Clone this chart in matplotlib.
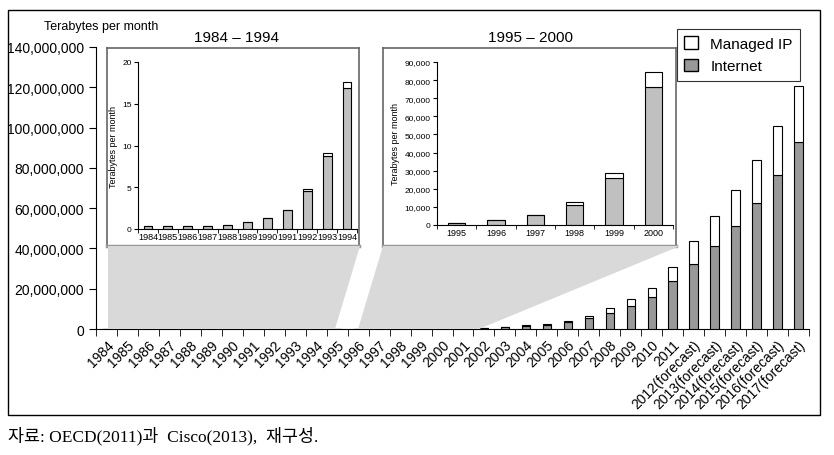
import numpy as np
import matplotlib
matplotlib.use('Agg')
import matplotlib.pyplot as plt
from matplotlib.patches import Patch, Polygon, Rectangle
from matplotlib.ticker import FuncFormatter

plt.rcParams['font.family'] = ['Liberation Sans', 'DejaVu Sans']

# main chart, terabytes per month
years_main = [str(y) for y in range(1984, 2012)] + ['%d(forecast)' % y for y in range(2012, 2018)]
internet_main = [0.3, 0.3, 0.3, 0.3, 0.5, 0.8, 1.3, 2.3, 4.6, 8.8, 16.9,
                 900, 2500, 5700, 11300, 25900, 76300,
                 180000, 360000, 850000, 1600000, 2000000, 3400000, 5400000,
                 7800000, 11300000, 15700000, 24000000,
                 32200000, 41300000, 51200000, 62800000, 76400000, 92900000]
total_main = [0.3, 0.3, 0.3, 0.3, 0.5, 0.8, 1.3, 2.3, 4.85, 9.15, 17.65,
              900, 2500, 5700, 12600, 28500, 84500,
              200000, 400000, 1000000, 2000000, 2600000, 4200000, 6600000,
              10200000, 15000000, 20300000, 30800000,
              43800000, 56100000, 69100000, 84000000, 100900000, 120600000]
managed_main = [t - i for t, i in zip(total_main, internet_main)]

# inset 1984-1994
years_a = [str(y) for y in range(1984, 1995)]
internet_a = internet_main[0:11]
managed_a = managed_main[0:11]

# inset 1995-2000
years_b = [str(y) for y in range(1995, 2001)]
internet_b = internet_main[11:17]
managed_b = managed_main[11:17]

W, H = 834, 456
fig = plt.figure(figsize=(W / 100, H / 100), dpi=100)


def box(x0, y0, x1, y1):
    # pixel box (top-left origin) -> figure fraction rect
    return [x0 / W, 1 - y1 / H, (x1 - x0) / W, (y1 - y0) / H]


def pt(x, y):
    return (x / W, 1 - y / H)


# outer frame
fig.patches.append(Rectangle(pt(8, 416), 812 / W, 405 / H, transform=fig.transFigure,
                             fill=False, edgecolor='black', linewidth=1))

ax = fig.add_axes(box(96, 48, 809, 330))
x = np.arange(len(years_main))
ax.bar(x, internet_main, 0.4, color='#999999', edgecolor='black', linewidth=0.8, zorder=3)
ax.bar(x, managed_main, 0.4, bottom=internet_main, color='white', edgecolor='black',
       linewidth=0.8, zorder=3)
ax.set_xlim(-0.5, len(years_main) - 0.5)
ax.set_ylim(0, 140000000)
ax.set_yticks(np.arange(0, 140000001, 20000000))
ax.yaxis.set_major_formatter(FuncFormatter(lambda v, p: '{:,.0f}'.format(v)))
ax.set_xticks(x)
ax.set_xticklabels(years_main, rotation=45, ha='right', rotation_mode='anchor', fontsize=10)
ax.set_xticks(np.arange(-0.5, len(years_main), 1), minor=True)
ax.tick_params(axis='x', which='major', length=0, pad=6)
ax.tick_params(axis='x', which='minor', length=5, direction='out')
ax.tick_params(axis='y', labelsize=10, length=5, direction='out')
ax.spines['top'].set_visible(False)
ax.spines['right'].set_visible(False)
fig.text(44 / W, 1 - 27 / H, 'Terabytes per month', fontsize=9, va='center', ha='left')

leg = ax.legend(handles=[Patch(facecolor='white', edgecolor='black', label='Managed IP'),
                         Patch(facecolor='#999999', edgecolor='black', label='Internet')],
                loc='upper right', bbox_to_anchor=pt(808, 22), bbox_transform=fig.transFigure,
                fontsize=11, fancybox=False, edgecolor='black', handlelength=0.9,
                handleheight=0.9, borderpad=0.5, labelspacing=0.5)
leg.get_frame().set_linewidth(0.8)

# gray connectors
for poly in [[(108, 330), (335, 330), (360, 247), (108, 247)],
             [(358, 330), (479, 330), (680, 247), (383, 247)]]:
    fig.patches.append(Polygon([pt(px, py) for px, py in poly], closed=True,
                               transform=fig.transFigure, facecolor='#d9d9d9',
                               edgecolor='none', zorder=0))
ax.patch.set_alpha(0)


def inset(frame, area, years, internet, managed, ymax, step, title, tcx, xfs):
    fr = fig.add_axes(box(*frame))
    fr.set_xticks([])
    fr.set_yticks([])
    for s in fr.spines.values():
        s.set_edgecolor('#666666')
        s.set_linewidth(1.2)
    fr.spines['bottom'].set_edgecolor('#999999')
    fr.spines['bottom'].set_linewidth(2.5)
    ia = fig.add_axes(box(*area))
    xi = np.arange(len(years))
    ia.bar(xi, internet, 0.44, color='#c0c0c0', edgecolor='black', linewidth=0.8)
    ia.bar(xi, managed, 0.44, bottom=internet, color='white', edgecolor='black', linewidth=0.8)
    ia.set_xlim(-0.5, len(years) - 0.5)
    ia.set_ylim(0, ymax)
    ia.set_yticks(np.arange(0, ymax + 1, step))
    ia.yaxis.set_major_formatter(FuncFormatter(lambda v, p: '{:,.0f}'.format(v)))
    ia.set_xticks(xi)
    ia.set_xticklabels(years, fontsize=xfs)
    ia.set_xticks(np.arange(-0.5, len(years), 1), minor=True)
    ia.tick_params(axis='x', which='major', length=0, pad=2)
    ia.tick_params(axis='x', which='minor', length=3)
    ia.tick_params(axis='y', labelsize=6, length=3, pad=1.5)
    ia.spines['top'].set_visible(False)
    ia.spines['right'].set_visible(False)
    ia.set_ylabel('Terabytes per month', fontsize=6.5, labelpad=3)
    ia.patch.set_alpha(0)
    fig.text(tcx / W, 1 - 38 / H, title, fontsize=11, ha='center', va='center')


inset((107, 49, 359, 247), (138, 63, 357, 230), years_a, internet_a, managed_a,
      20, 5, '1984 \u2013 1994', 236, 6.6)
inset((383, 49, 676, 247), (437, 63, 673, 226), years_b, internet_b, managed_b,
      90000, 10000, '1995 \u2013 2000', 530, 6.5)

fig.text(8 / W, 1 - 436 / H, '자료: OECD(2011)과  Cisco(2013),  재구성.', fontsize=12.5,
         family=['Liberation Serif', 'Noto Sans CJK KR'], ha='left', va='center')

fig.savefig('out.png', dpi=100)
